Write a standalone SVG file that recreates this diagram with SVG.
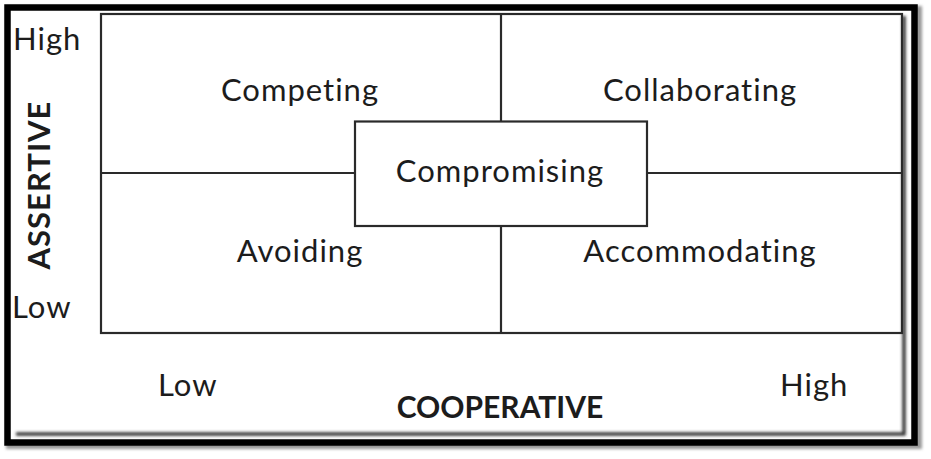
<svg xmlns="http://www.w3.org/2000/svg" width="931" height="459" viewBox="0 0 931 459">
<style>
.t{font-family:Lato,"Open Sans","Liberation Sans",sans-serif;font-size:31px;fill:#1c1c1c;letter-spacing:1px;font-variant-ligatures:none}
.b{font-weight:bold}
.c{font-size:30px;letter-spacing:0}
.m{text-anchor:middle}
.ln{stroke:#2a2a2a;stroke-width:2.2;fill:none}
</style>
<defs>
<filter id="bl" x="-5%" y="-5%" width="110%" height="110%"><feGaussianBlur stdDeviation="1.6"/></filter>
</defs>
<rect x="0" y="0" width="931" height="459" fill="#fff"/>
<g id="frame">
<rect x="9" y="9" width="910" height="437" fill="none" stroke="#999" stroke-width="6" filter="url(#bl)"/>
<rect x="7.5" y="7.5" width="907" height="435" fill="#fff" stroke="#000" stroke-width="6.5"/>
<path d="M904,16 V434 H16" fill="none" stroke="#333" stroke-width="3.5" filter="url(#bl)"/>
</g>
<g id="connectors">
<rect class="ln" x="101" y="14" width="801" height="319"/>
<line class="ln" x1="501" y1="14" x2="501" y2="121"/>
<line class="ln" x1="501" y1="226" x2="501" y2="333"/>
<line class="ln" x1="101" y1="173" x2="355" y2="173"/>
<line class="ln" x1="647" y1="173" x2="902" y2="173"/>
</g>
<g id="competing"><text class="t m" x="300" y="101">Competing</text></g>
<g id="collaborating"><text class="t m" x="700" y="101">Collaborating</text></g>
<g id="compromising">
<rect class="ln" x="355" y="121.5" width="292" height="104.5" fill="#fff"/>
<text class="t m" x="500" y="182">Compromising</text>
</g>
<g id="avoiding"><text class="t m" x="300" y="262">Avoiding</text></g>
<g id="accommodating"><text class="t m" x="700" y="262">Accommodating</text></g>
<g id="axis-y">
<text class="t" x="13" y="50">High</text>
<text class="t" x="12" y="318">Low</text>
<text class="t b m" transform="translate(50,185) rotate(-90)" x="0" y="0">ASSERTIVE</text>
</g>
<g id="axis-x">
<text class="t" x="158" y="396">Low</text>
<text class="t" x="780" y="396">High</text>
<text class="t b m c" x="500" y="418">COOPERATIVE</text>
</g>
</svg>
